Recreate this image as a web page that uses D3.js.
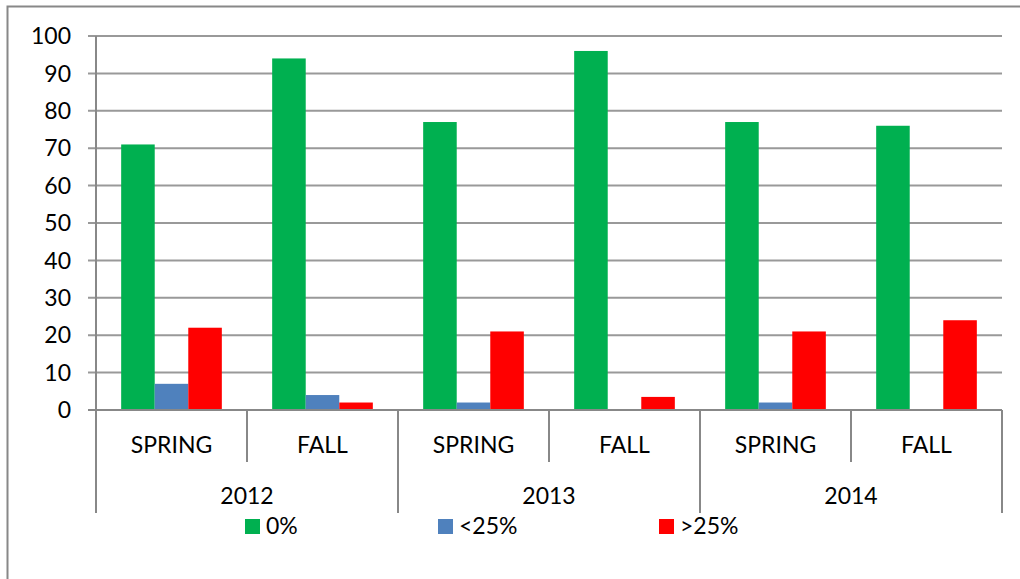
<!DOCTYPE html>
<html>
  <head>
    <meta charset="utf-8">
    <title>Chart</title>
    <script src="https://d3js.org/d3.v7.min.js"></script>
    <style>
      body { margin: 0; background: #fff; }
      text { font-family: Lato, "Liberation Sans", sans-serif; fill: #000; font-size: 23px; }
    </style>
  </head>
  <body>
    <svg id="chart" width="1020" height="579"></svg>
    <script>
      // data
      const years = ["2012", "2013", "2014"];
      const seasons = ["SPRING", "FALL"];
      const series = ["0%", "<25%", ">25%"];
      const colors = ["#00B050", "#4F81BD", "#FF0000"];
      const zero = [71, 94, 77, 96, 77, 76];
      const under25 = [7, 4, 2, 0, 2, 0];
      const over25 = [22, 2, 21, 3.5, 21, 24];
      const yTicks = [0, 10, 20, 30, 40, 50, 60, 70, 80, 90, 100];

      const values = [zero, under25, over25];
      const cats = [];
      years.forEach(function(y) {
        seasons.forEach(function(s) { cats.push(y + "|" + s); });
      });

      const svg = d3.select("#chart");
      const plot = { left: 96, right: 1002, top: 36, bottom: 410 };

      const x = d3.scaleBand().domain(cats).range([plot.left, plot.right]);
      const xi = d3.scaleBand().domain(series).range([0, x.bandwidth()])
        .paddingInner(0).paddingOuter(0.75);
      const xy = d3.scaleBand().domain(years).range([plot.left, plot.right]);
      const y = d3.scaleLinear().domain([0, 100]).range([plot.bottom, plot.top]);

      // outer frame (only top and left visible)
      svg.append("path")
        .attr("d", "M7.5,579V6.5H1020")
        .attr("fill", "none")
        .attr("stroke", "#888")
        .attr("stroke-width", 2);

      // gridlines
      svg.append("g")
        .selectAll("line")
        .data(yTicks)
        .join("line")
          .attr("x1", plot.left - 8)
          .attr("x2", plot.right)
          .attr("y1", function(d) { return y(d); })
          .attr("y2", function(d) { return y(d); })
          .attr("stroke", "#999")
          .attr("stroke-width", 2);

      // y labels
      svg.append("g")
        .selectAll("text")
        .data(yTicks)
        .join("text")
          .attr("x", 71)
          .attr("y", function(d) { return y(d); })
          .attr("dy", "0.36em")
          .attr("text-anchor", "end")
          .text(function(d) { return d; });

      // bars
      const groups = svg.append("g")
        .selectAll("g")
        .data(cats)
        .join("g")
          .attr("transform", function(d) { return "translate(" + x(d) + ",0)"; });
      groups.selectAll("rect")
        .data(function(d, i) {
          return series.map(function(s, j) { return { s: s, v: values[j][i], c: colors[j] }; });
        })
        .join("rect")
          .attr("x", function(d) { return xi(d.s); })
          .attr("width", xi.bandwidth())
          .attr("y", function(d) { return y(d.v); })
          .attr("height", function(d) { return plot.bottom - y(d.v); })
          .attr("fill", function(d) { return d.c; });

      // category axis lines
      const axis = svg.append("g")
        .attr("stroke", "#888")
        .attr("stroke-width", 2);
      axis.append("line")
        .attr("x1", plot.left - 8).attr("x2", plot.right)
        .attr("y1", plot.bottom).attr("y2", plot.bottom);
      axis.append("line")
        .attr("x1", plot.left).attr("x2", plot.left)
        .attr("y1", plot.top).attr("y2", 513);
      axis.selectAll(".cat")
        .data(cats.slice(1))
        .join("line")
          .attr("x1", function(d) { return x(d); })
          .attr("x2", function(d) { return x(d); })
          .attr("y1", plot.bottom)
          .attr("y2", function(d) { return d.endsWith("SPRING") ? 513 : 462; });
      axis.append("line")
        .attr("x1", plot.right).attr("x2", plot.right)
        .attr("y1", plot.bottom).attr("y2", 513);

      // category labels
      svg.append("g")
        .selectAll("text")
        .data(cats)
        .join("text")
          .attr("x", function(d) { return x(d) + x.bandwidth() / 2; })
          .attr("y", 453)
          .attr("text-anchor", "middle")
          .text(function(d) { return d.split("|")[1]; });

      svg.append("g")
        .selectAll("text")
        .data(years)
        .join("text")
          .attr("x", function(d) { return xy(d) + xy.bandwidth() / 2; })
          .attr("y", 504)
          .attr("text-anchor", "middle")
          .text(function(d) { return d; });

      // legend
      const legendX = [245, 438, 659];
      const legend = svg.append("g")
        .selectAll("g")
        .data(series)
        .join("g")
          .attr("transform", function(d, i) { return "translate(" + legendX[i] + ",519)"; });
      legend.append("rect")
        .attr("width", 15)
        .attr("height", 15)
        .attr("fill", function(d, i) { return colors[i]; });
      legend.append("text")
        .attr("x", 21)
        .attr("y", 15)
        .text(function(d) { return d; });
    </script>
  </body>
</html>
